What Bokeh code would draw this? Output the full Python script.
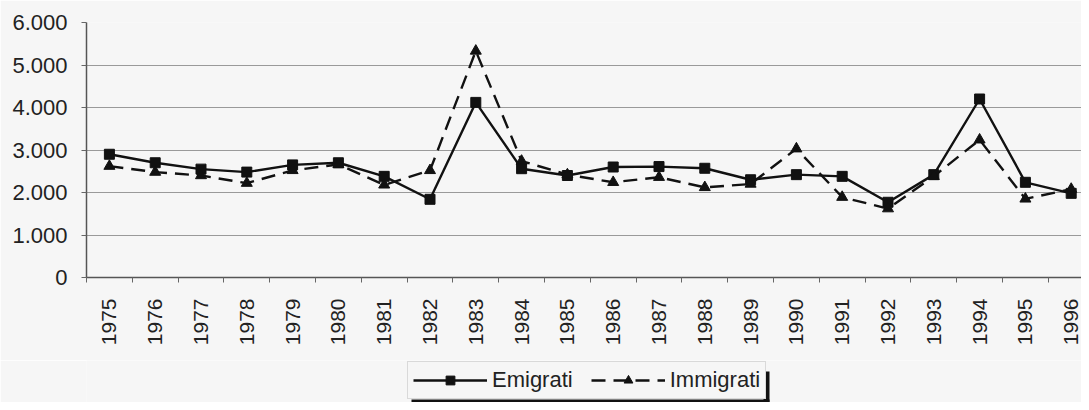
import math
from bokeh.plotting import figure
from bokeh.layouts import column
from bokeh.models import Range1d, FixedTicker, Legend, LegendItem
from bokeh.embed import file_html
from bokeh.resources import INLINE

years = list(range(1975, 1997))
emigrati = [2900, 2700, 2550, 2480, 2650, 2700, 2380, 1840, 4120, 2560, 2400,
            2600, 2610, 2570, 2300, 2420, 2380, 1770, 2420, 4200, 2240, 1980]
immigrati = [2620, 2480, 2400, 2220, 2520, 2660, 2180, 2520, 5330, 2740, 2420,
             2240, 2360, 2120, 2200, 3030, 1890, 1620, 2380, 3240, 1850, 2080]
y_ticks = [0, 1000, 2000, 3000, 4000, 5000, 6000]
y_labels = ["0", "1.000", "2.000", "3.000", "4.000", "5.000", "6.000"]
series_names = ["Emigrati", "Immigrati"]

FONT = "Liberation Sans"
BG = "#f6f6f6"
INK = "#111111"

W = 1081
H_MAIN, H_LEG = 360, 42
left, top, bottom_frame = 86, 22, 277
frame_w = W - left
px_per_year = 45.8

p = figure(width=W, height=H_MAIN, output_backend="svg", toolbar_location=None,
           x_range=Range1d(years[0] - 0.5, years[0] - 0.5 + frame_w / px_per_year),
           y_range=Range1d(0, 6000),
           min_border_left=left, min_border_right=0, min_border_top=top,
           min_border_bottom=H_MAIN - bottom_frame)
p.background_fill_color = BG
p.border_fill_color = BG
p.outline_line_color = None

# x axis: labels at year centres, small ticks at category boundaries
p.xaxis.ticker = FixedTicker(ticks=years, minor_ticks=[y + 0.5 for y in [years[0] - 1] + years])
p.xaxis.major_label_overrides = {y: str(y) for y in years}
p.xaxis.major_label_orientation = math.pi / 2
p.xaxis.major_tick_line_color = None
p.xaxis.major_tick_out = 0
p.xaxis.minor_tick_out = 5
p.xaxis.minor_tick_in = 0
p.xaxis.minor_tick_line_color = "#666666"
p.xaxis.major_label_standoff = 16
p.xaxis.major_label_text_font = FONT
p.xaxis.major_label_text_font_size = "21px"
p.xaxis.major_label_text_color = "#222222"
p.xaxis.axis_line_color = "#555555"
p.xaxis.axis_line_width = 1.5

p.yaxis.ticker = FixedTicker(ticks=y_ticks)
p.yaxis.major_label_overrides = dict(zip(y_ticks, y_labels))
p.yaxis.major_tick_out = 5
p.yaxis.major_tick_in = 0
p.yaxis.minor_tick_line_color = None
p.yaxis.major_tick_line_color = "#666666"
p.yaxis.major_label_standoff = 14
p.yaxis.major_label_text_font = FONT
p.yaxis.major_label_text_font_size = "22px"
p.yaxis.major_label_text_color = "#222222"
p.yaxis.axis_line_color = "#555555"
p.yaxis.axis_line_width = 1.5

p.xgrid.grid_line_color = None
p.ygrid.grid_line_color = "#9a9a9a"
p.ygrid.grid_line_width = 1

# series
p.line(years, emigrati, line_color=INK, line_width=2.4)
p.scatter(years, emigrati, marker="square", size=10, fill_color=INK, line_color=INK)
p.line(years, immigrati, line_color=INK, line_width=2.4, line_dash="14 8")
p.scatter(years, immigrati, marker="triangle", size=11, fill_color=INK, line_color=INK)

# legend strip below the chart (frame aligned with the main frame; data units = pixels)
q = figure(width=W, height=H_LEG, output_backend="svg", toolbar_location=None,
           x_range=Range1d(left, W), y_range=Range1d(0, H_LEG),
           min_border_left=left, min_border_right=0, min_border_top=0, min_border_bottom=0,
           x_axis_type=None, y_axis_type=None)
q.background_fill_color = BG
q.border_fill_color = BG
q.outline_line_color = None
q.xgrid.grid_line_color = None
q.ygrid.grid_line_color = None

# box shadow (right and bottom edge of the legend box)
q.quad(left=[763, 411], right=[769, 769], bottom=[0, 0], top=[31, 3],
       fill_color=INK, line_color=None)

# legend proxies (kept outside the visible range)
r1l = q.line([-50, -40], [-50, -40], line_color=INK, line_width=2.4)
r1m = q.scatter([-50], [-50], marker="square", size=10, fill_color=INK, line_color=INK)
r2l = q.line([-50, -40], [-50, -40], line_color=INK, line_width=2.4, line_dash="14 8")
r2m = q.scatter([-50], [-50], marker="triangle", size=11, fill_color=INK, line_color=INK)

legend = Legend(items=[LegendItem(label=series_names[0], renderers=[r1l, r1m]),
                       LegendItem(label=series_names[1], renderers=[r2l, r2m])],
                orientation="horizontal", location=(407 - left, 3), margin=0)
legend.label_text_font = FONT
legend.label_text_font_size = "22px"
legend.label_text_color = "#222222"
legend.glyph_width = 74
legend.glyph_height = 22
legend.label_standoff = 5
legend.spacing = 18
legend.padding = 5
legend.border_line_color = "#bbbbbb"
legend.background_fill_color = BG
legend.background_fill_alpha = 1
q.add_layout(legend, "center")

layout = column(p, q, spacing=0)
open("out.html", "w").write(file_html(layout, INLINE))
